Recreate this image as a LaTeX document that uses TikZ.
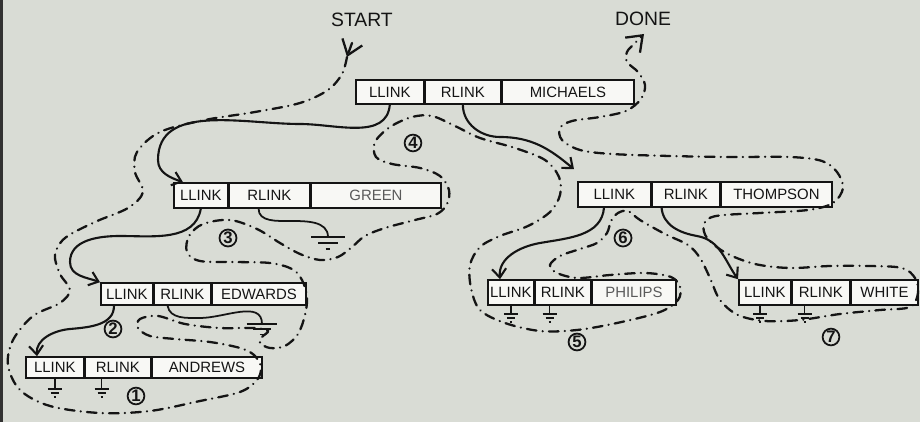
\documentclass[tikz,border=0pt]{standalone}
\usepackage{fontspec}
\setmainfont{Liberation Sans}
\usetikzlibrary{arrows.meta,calc}
\definecolor{paper}{RGB}{217,220,213}
\definecolor{scanedge}{RGB}{50,50,50}
\definecolor{ink}{RGB}{20,20,20}
\definecolor{boxfill}{RGB}{248,248,245}
\definecolor{faint}{RGB}{90,90,90}

\tikzset{
  fld/.style={draw=ink,line width=0.9pt,fill=boxfill,anchor=west,inner sep=0pt,
    text=ink,font=\fontsize{8.5}{9}\selectfont,minimum height=0.5cm},
  fw/.style={minimum width=#1*0.02cm},
  fh/.style={minimum height=#1*0.02cm},
  ptr/.style={draw=ink,line width=1.2pt,-{Straight Barb[length=5pt,width=8pt]}},
  trav/.style={draw=ink,line width=1.3pt,line cap=round,
    dash pattern=on 5.5pt off 3.5pt on 0.1pt off 3.5pt},
  tipv/.style={-{Straight Barb[length=8pt,width=12pt]}},
  num/.style={circle,draw=ink,line width=1pt,inner sep=0.4pt,text=ink,
    font=\fontsize{9.5}{10}\selectfont\bfseries},
  lbl/.style={font=\fontsize{11}{12}\selectfont,text=ink},
  lead/.style={draw=ink,line width=1pt},
  earth/.pic={\draw[ink,line width=1pt] (-7,0) -- (7,0) (-4,4) -- (4,4) (-1,8) -- (1,8);}
}

\begin{document}
\begin{tikzpicture}[x=0.02cm,y=-0.02cm]
\useasboundingbox (0,0) rectangle (920,422);
\fill[paper] (0,0) rectangle (920,422);
\fill[scanedge] (0,0) rectangle (3,422);

% records
\node[fld,fw=68,fh=24] (mL) at (355,92) {LLINK};
\node[fld,fw=75,fh=24] (mR) at (mL.east) {RLINK};
\node[fld,fw=132,fh=24] (mN) at (mR.east) {MICHAELS};

\node[fld,fw=54,fh=25] (gL) at (173,195.5) {LLINK};
\node[fld,fw=80,fh=25] (gR) at (gL.east) {RLINK};
\node[fld,fw=130,fh=25,text=faint] (gN) at (gR.east) {GREEN};

\node[fld,fw=52,fh=22] (eL) at (100,294) {LLINK};
\node[fld,fw=56,fh=22] (eR) at (eL.east) {RLINK};
\node[fld,fw=94,fh=22] (eN) at (eR.east) {EDWARDS};

\node[fld,fw=58,fh=21] (aL) at (25,367.5) {LLINK};
\node[fld,fw=65,fh=21] (aR) at (aL.east) {RLINK};
\node[fld,fw=110,fh=21] (aN) at (aR.east) {ANDREWS};

\node[fld,fw=73,fh=25] (tL) at (577,194.5) {LLINK};
\node[fld,fw=67,fh=25] (tR) at (tL.east) {RLINK};
\node[fld,fw=111,fh=25] (tN) at (tR.east) {THOMPSON};

\node[fld,fw=46,fh=25] (pL) at (487,292.5) {LLINK};
\node[fld,fw=55,fh=25] (pR) at (pL.east) {RLINK};
\node[fld,fw=84,fh=25,text=faint] (pN) at (pR.east) {PHILIPS};

\node[fld,fw=52,fh=25] (wL) at (738,292.5) {LLINK};
\node[fld,fw=57,fh=25] (wR) at (wL.east) {RLINK};
\node[fld,fw=67,fh=25] (wN) at (wR.east) {WHITE};

% labels and step numbers
\node[lbl] (start) at (362,20) {START};
\node[lbl] (done) at (643,19) {DONE};
\node[num] (n1) at (136,396) {1};
\node[num] (n2) at (113,329) {2};
\node[num] (n3) at (228,238) {3};
\node[num] (n4) at (413,143) {4};
\node[num] (n5) at (577,342) {5};
\node[num] (n6) at (623,238) {6};
\node[num] (n7) at (831,337) {7};

% links
\draw[ptr] (mL.south) to[out=-95,in=0] (300,124) to[out=180,in=90] (158,160)
  to[out=-90,in=160] ($(gL.north west)+(10,0)$);
\draw[ptr] (gL.south) to[out=-100,in=0] (120,236) to[out=180,in=90] (70,262)
  to[out=-90,in=160] (eL.north west);
\draw[ptr] ($(eL.south west)+(14,0)$) to[out=-90,in=5] (70,329)
  to[out=185,in=95] ($(aL.north west)+(12,0)$);
\draw[ptr] (mR.south) to[out=-90,in=180] (500,137) to[out=0,in=140] ($(tL.north west)+(-3,-12)$);
\draw[ptr] ($(tL.south west)+(27,0)$) to[out=-95,in=10] (540,243)
  to[out=190,in=95] ($(pL.north west)+(13,0)$);
\draw[ptr] ($(tR.south west)+(10,0)$) to[out=-85,in=170] (697,236)
  to[out=-10,in=125] (wL.north west);

% nil links
\coordinate (gG) at (328,237);
\coordinate (eG) at (262,324);
\draw[lead] ($(gR.south west)+(30,0)$) to[out=-90,in=180] (290,221) to[out=0,in=90] (gG)
  pic[xscale=2.4,yscale=1.5]{earth};
\draw[lead] ($(eR.south west)+(14,0)$) to[out=-80,in=180] (200,318) to[out=0,in=90] (eG)
  pic[xscale=2.2,yscale=1.3]{earth};
\draw[lead] (aL.south) -- ++(0,10) pic{earth};
\draw[lead] ($(aR.south west)+(17,0)$) -- ++(0,10) pic{earth};
\draw[lead] (pL.south) -- ++(0,8) pic{earth};
\draw[lead] ($(pR.south west)+(15,0)$) -- ++(0,8) pic{earth};
\draw[lead] ($(wL.south west)+(22,0)$) -- ++(0,8) pic{earth};
\draw[lead] ($(wR.south west)+(13,0)$) -- ++(0,8) pic{earth};

% traversal
\coordinate (sTail) at (352,43);
\coordinate (sTip) at (347,57);
\draw[trav,tipv] (sTail) -- (sTip);
\draw[trav,tipv] plot[smooth,tension=0.55] coordinates {
  (347,57) (342,74) (328,90) (300,103) (255,112) (205,120) (160,132) (137,152)
  (135,172) (143,192) (128,208) (95,222) (65,238) (55,255) (60,274) (70,290)
  (60,303) (33,316) (13,340) (8,365) (20,390) (50,406) (100,413) (150,411)
  (200,401) (240,392) (257,380) (261,367) (254,355) (240,348) (210,342)
  (175,339) (150,336) (138,328) (140,319) (158,316) (185,324) (220,328)
  (255,328) (268,331) (262,337) (260,343) (270,348) (285,346) (298,334)
  (305,315) (307,297) (302,280) (292,269) (270,263) (235,262) (200,261)
  (187,252) (189,236) (203,224) (230,220) (257,229) (280,243) (300,254)
  (320,260) (338,257) (352,247) (365,236) (385,228) (415,220) (437,214)
  (447,204) (449,190) (440,176) (420,168) (392,164) (376,157) (375,142)
  (390,127) (412,117) (432,116) (455,126) (480,138) (515,148) (545,160)
  (559,177) (560,195) (550,212) (528,226) (500,236) (480,247) (470,265)
  (471,288) (480,310) (505,323) (540,331) (577,330) (617,323) (660,312)
  (678,300) (680,287) (671,277) (645,273) (610,275) (578,278) (557,273)
  (550,265) (560,256) (580,249) (597,243) (607,233) (611,221) (618,213)
  (628,211) (640,220) (665,234) (688,245) (700,258) (710,278) (720,300)
  (738,315) (765,321) (800,320) (840,314) (880,310) (910,307) (918,293)
  (915,278) (902,268) (870,266) (830,266) (790,268) (755,264) (726,253)
  (707,238) (704,224) (716,216) (760,213) (808,210) (833,203) (843,188)
  (837,172) (822,161) (790,157) (730,157) (670,156) (612,154) (580,150)
  (562,140) (560,128) (572,121) (600,117) (626,111) (641,99) (645,85)
  (638,72) (627,62) (627,52) (634,44) (644,34)};
\end{tikzpicture}
\end{document}
